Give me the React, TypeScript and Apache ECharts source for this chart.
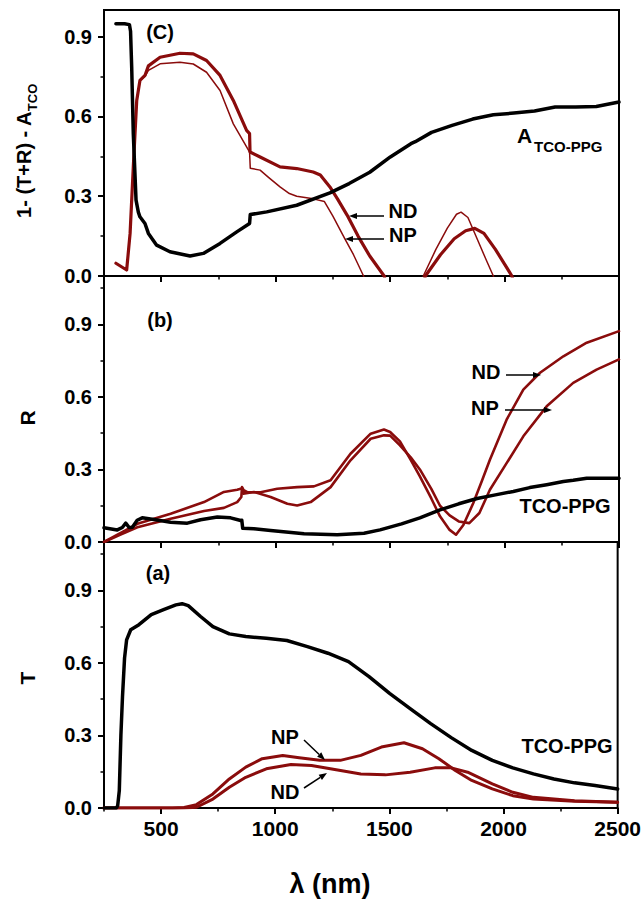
import React, { useEffect, useRef } from 'react';
import * as echarts from 'echarts';

// ---------- axes ----------
const X_MIN = 250;
const X_MAX = 2500;
const X_MAJOR = [500, 1000, 1500, 2000, 2500];
const X_MINOR = [250, 750, 1250, 1750, 2250];
const Y_MAJOR = [0, 0.3, 0.6, 0.9];
const Y_MINOR_TOP = [0.15, 0.45, 0.75];
const Y_MINOR = [0.15, 0.45, 0.75, 1.05];
const Y_MAX = [1.0, 1.1, 1.1];

// ---------- panel (C): 1-(T+R)-A_TCO ----------
const absTcoPpg: [number, number][] = [
  [302, 0.948], [340, 0.948], [361, 0.945], [366, 0.92], [371, 0.785], [378, 0.535], [390, 0.285],
  [400, 0.24], [407, 0.2225], [429, 0.1975], [444, 0.16], [480, 0.116], [538, 0.091], [626, 0.075],
  [684, 0.085], [757, 0.1225], [830, 0.166], [886, 0.1975], [889, 0.231], [961, 0.241], [1092, 0.266],
  [1237, 0.3125], [1321, 0.3475], [1411, 0.39], [1501, 0.4475], [1591, 0.4975], [1610, 0.505],
  [1681, 0.54], [1771, 0.566], [1861, 0.59], [1951, 0.606], [2041, 0.6125], [2131, 0.62], [2221, 0.635],
  [2311, 0.635], [2401, 0.6375], [2500, 0.654],
];
const absND: [number, number][] = [
  [302, 0.048], [349, 0.0225], [364, 0.16], [378, 0.41], [393, 0.66], [407, 0.735], [429, 0.754],
  [444, 0.79], [495, 0.8225], [582, 0.8375], [640, 0.835], [698, 0.81], [757, 0.754], [815, 0.66],
  [873, 0.5475], [886, 0.535], [888, 0.466], [932, 0.4475], [1019, 0.41], [1092, 0.404], [1164, 0.391],
  [1195, 0.38], [1237, 0.335], [1270, 0.29], [1312, 0.229], [1360, 0.15], [1411, 0.075], [1474, 0],
  [1520, -0.15], [1610, -0.15], [1654, 0], [1720, 0.08], [1780, 0.14], [1830, 0.17], [1870, 0.179],
  [1910, 0.16], [1960, 0.1], [2000, 0.045], [2032, 0], [2080, -0.15],
];
const absNP: [number, number][] = [
  [302, 0.048], [349, 0.0225], [364, 0.16], [378, 0.41], [393, 0.66], [407, 0.735], [429, 0.75],
  [444, 0.773], [495, 0.7975], [582, 0.8036], [640, 0.797], [698, 0.766], [757, 0.6975], [815, 0.572],
  [873, 0.485], [886, 0.466], [889, 0.405], [932, 0.398], [970, 0.37], [1019, 0.335], [1060, 0.31],
  [1092, 0.3], [1164, 0.29], [1213, 0.28], [1250, 0.225], [1303, 0.139], [1340, 0.08], [1384, 0],
  [1430, -0.15], [1600, -0.15], [1645, 0], [1700, 0.1], [1750, 0.18], [1790, 0.232], [1810, 0.24],
  [1840, 0.22], [1880, 0.14], [1920, 0.06], [1951, 0], [2000, -0.15],
];

// ---------- panel (b): R ----------
const reflTcoPpg: [number, number][] = [
  [250, 0.059], [308, 0.05], [330, 0.06], [345, 0.078], [360, 0.06], [374, 0.061], [395, 0.09],
  [417, 0.1], [468, 0.093], [541, 0.082], [614, 0.078], [672, 0.092], [745, 0.103], [803, 0.1],
  [847, 0.089], [852, 0.09], [856, 0.057], [905, 0.055], [978, 0.048], [1124, 0.034], [1269, 0.03],
  [1386, 0.036], [1456, 0.05], [1550, 0.075], [1630, 0.1], [1718, 0.133], [1800, 0.158], [1880, 0.18],
  [1960, 0.195], [2038, 0.209], [2110, 0.225], [2184, 0.237], [2257, 0.25], [2300, 0.255],
  [2359, 0.264], [2500, 0.264],
];
const reflND: [number, number][] = [
  [250, 0.0], [320, 0.03], [396, 0.061], [541, 0.096], [687, 0.128], [774, 0.141], [832, 0.165],
  [850, 0.186], [853, 0.227], [860, 0.215], [876, 0.206], [934, 0.206], [1007, 0.22], [1094, 0.227],
  [1167, 0.23], [1240, 0.255], [1327, 0.365], [1415, 0.448], [1473, 0.465], [1500, 0.455],
  [1543, 0.416], [1590, 0.34], [1630, 0.271], [1680, 0.18], [1718, 0.106], [1760, 0.05], [1788, 0.03],
  [1820, 0.07], [1863, 0.16], [1900, 0.25], [1936, 0.34], [2009, 0.506], [2082, 0.63], [2155, 0.7],
  [2257, 0.768], [2359, 0.824], [2500, 0.872],
];
const reflNP: [number, number][] = [
  [250, 0.0], [396, 0.075], [541, 0.117], [687, 0.165], [774, 0.207], [832, 0.216], [854, 0.222],
  [858, 0.2], [905, 0.207], [978, 0.186], [1051, 0.158], [1094, 0.151], [1153, 0.165], [1240, 0.227],
  [1327, 0.338], [1415, 0.427], [1473, 0.441], [1500, 0.44], [1543, 0.4], [1590, 0.35], [1630, 0.3],
  [1680, 0.22], [1718, 0.15], [1760, 0.11], [1800, 0.085], [1846, 0.078], [1890, 0.12], [1936, 0.216],
  [2009, 0.326], [2082, 0.437], [2184, 0.561], [2300, 0.658], [2402, 0.713], [2500, 0.755],
];

// ---------- panel (a): T ----------
const transTcoPpg: [number, number][] = [
  [250, 0], [304, 0], [310, 0.01], [317, 0.072], [324, 0.3], [331, 0.46], [340, 0.62], [349, 0.695],
  [367, 0.737], [403, 0.758], [457, 0.8], [511, 0.82], [565, 0.84], [592, 0.845], [619, 0.837],
  [673, 0.792], [727, 0.75], [799, 0.72], [871, 0.709], [961, 0.702], [1051, 0.6925], [1141, 0.6675],
  [1231, 0.64], [1321, 0.605], [1411, 0.543], [1501, 0.474], [1591, 0.411], [1681, 0.349],
  [1771, 0.291], [1861, 0.238], [1951, 0.197], [2041, 0.166], [2131, 0.141], [2221, 0.12],
  [2311, 0.104], [2401, 0.093], [2500, 0.079],
];
const transNP: [number, number][] = [
  [250, 0], [550, 0], [601, 0.002], [655, 0.014], [727, 0.058], [799, 0.12], [871, 0.169], [943, 0.204],
  [1033, 0.2175], [1105, 0.208], [1195, 0.197], [1285, 0.197], [1375, 0.2175], [1465, 0.252],
  [1564, 0.27], [1645, 0.245], [1717, 0.204], [1789, 0.155], [1861, 0.114], [1951, 0.079],
  [2041, 0.051], [2131, 0.037], [2311, 0.028], [2500, 0.0235],
];
const transND: [number, number][] = [
  [250, 0], [600, 0], [655, 0.003], [727, 0.037], [799, 0.086], [871, 0.127], [961, 0.162],
  [1069, 0.18], [1159, 0.176], [1267, 0.158], [1375, 0.141], [1483, 0.137], [1591, 0.148],
  [1699, 0.166], [1771, 0.166], [1843, 0.148], [1951, 0.1], [2041, 0.065], [2131, 0.044],
  [2311, 0.03], [2500, 0.0235],
];

const FONT = "'Liberation Sans', Arial, sans-serif";
const BLACK = '#000000';
const RED = '#8a0c0c';

const GRIDS = [
  { top: 10, height: 266 },
  { top: 276, height: 266 },
  { top: 542, height: 266 },
];

function lineSeries(name: string, data: [number, number][], idx: number, color: string, width: number) {
  return {
    type: 'line',
    name,
    data,
    xAxisIndex: idx,
    yAxisIndex: idx,
    showSymbol: false,
    symbol: 'none',
    smooth: false,
    lineStyle: { color, width, join: 'round', cap: 'round' },
    z: color === BLACK ? 3 : 2,
  };
}

function txt(text: string, x: number, y: number, size: number, align = 'center', extra: any = {}) {
  return {
    type: 'text',
    x,
    y,
    z: 10,
    ...extra,
    style: {
      text,
      fill: BLACK,
      fontSize: size,
      fontWeight: 'bold',
      fontFamily: FONT,
      align,
      verticalAlign: 'middle',
      ...(extra.style || {}),
    },
  };
}

function arrow(x1: number, y1: number, x2: number, y2: number) {
  const dx = x2 - x1;
  const dy = y2 - y1;
  const len = Math.sqrt(dx * dx + dy * dy);
  const ux = dx / len;
  const uy = dy / len;
  const hl = 8;
  const hw = 3;
  const bx = x2 - ux * hl;
  const by = y2 - uy * hl;
  return [
    { type: 'line', z: 10, shape: { x1, y1, x2: bx, y2: by }, style: { stroke: BLACK, lineWidth: 1.5 } },
    {
      type: 'polygon',
      z: 10,
      shape: { points: [[x2, y2], [bx - uy * hw, by + ux * hw], [bx + uy * hw, by - ux * hw]] },
      style: { fill: BLACK },
    },
  ];
}

export default function App() {
  const ref = useRef<HTMLDivElement>(null);
  useEffect(() => {
    if (!ref.current) return;
    const chart = echarts.init(ref.current, null, { renderer: 'svg' });

    const grid = GRIDS.map((g) => ({
      left: 104,
      width: 515,
      top: g.top,
      height: g.height,
      show: true,
      borderColor: BLACK,
      borderWidth: 2,
      backgroundColor: 'transparent',
    }));

    const xAxis: any[] = [];
    const yAxis: any[] = [];
    for (let i = 0; i < 3; i++) {
      xAxis.push({
        type: 'value',
        gridIndex: i,
        min: X_MIN,
        max: X_MAX,
        interval: 250,
        position: 'bottom',
        axisLine: { show: true, onZero: false, lineStyle: { color: BLACK, width: 2 } },
        axisTick: { show: true, customValues: X_MAJOR, length: 6, lineStyle: { color: BLACK, width: 2 } },
        axisLabel: {
          show: i === 2,
          customValues: X_MAJOR,
          formatter: (v: number) => String(v),
          fontSize: 21,
          fontWeight: 'bold',
          fontFamily: FONT,
          color: BLACK,
          margin: 10,
        },
        splitLine: { show: false },
      });
    }
    for (let i = 0; i < 3; i++) {
      xAxis.push({
        type: 'value',
        gridIndex: i,
        min: X_MIN,
        max: X_MAX,
        interval: 250,
        position: 'bottom',
        axisLine: { show: false, onZero: false },
        axisTick: { show: true, customValues: X_MINOR, length: 3.5, lineStyle: { color: BLACK, width: 1.5 } },
        axisLabel: { show: false },
        splitLine: { show: false },
      });
    }
    for (let i = 0; i < 3; i++) {
      yAxis.push({
        type: 'value',
        gridIndex: i,
        min: 0,
        max: Y_MAX[i],
        interval: 0.3,
        position: 'left',
        axisLine: { show: true, onZero: false, lineStyle: { color: BLACK, width: 2 } },
        axisTick: { show: true, customValues: Y_MAJOR, length: 6, lineStyle: { color: BLACK, width: 2 } },
        axisLabel: {
          customValues: Y_MAJOR,
          formatter: (v: number) => v.toFixed(1),
          fontSize: 20,
          fontWeight: 'bold',
          fontFamily: FONT,
          color: BLACK,
          margin: 12,
        },
        splitLine: { show: false },
      });
    }
    for (let i = 0; i < 3; i++) {
      yAxis.push({
        type: 'value',
        gridIndex: i,
        min: 0,
        max: Y_MAX[i],
        interval: 0.3,
        position: 'left',
        axisLine: { show: false, onZero: false },
        axisTick: {
          show: true,
          customValues: i === 0 ? Y_MINOR_TOP : Y_MINOR,
          length: 3.5,
          lineStyle: { color: BLACK, width: 1.5 },
        },
        axisLabel: { show: false },
        splitLine: { show: false },
      });
    }

    const series = [
      lineSeries('A TCO-PPG', absTcoPpg, 0, BLACK, 3.5),
      lineSeries('ND', absND, 0, RED, 3.2),
      lineSeries('NP', absNP, 0, RED, 1.5),
      lineSeries('TCO-PPG', reflTcoPpg, 1, BLACK, 3.5),
      lineSeries('ND', reflND, 1, RED, 2.6),
      lineSeries('NP', reflNP, 1, RED, 2.6),
      lineSeries('TCO-PPG', transTcoPpg, 2, BLACK, 3.5),
      lineSeries('NP', transNP, 2, RED, 3),
      lineSeries('ND', transND, 2, RED, 3),
    ];

    const graphic: any[] = [
      // y-axis titles
      {
        type: 'text',
        x: 24,
        y: 151,
        rotation: Math.PI / 2,
        z: 10,
        style: {
          text: '1- (T+R) - A{s|TCO}',
          fill: BLACK,
          fontSize: 20,
          fontWeight: 'bold',
          fontFamily: FONT,
          align: 'center',
          verticalAlign: 'middle',
          lineHeight: 30,
          rich: {
            s: { fontSize: 13, fontWeight: 'bold', fontFamily: FONT, fill: BLACK, verticalAlign: 'bottom', lineHeight: 30 },
          },
        },
      },
      txt('R', 27, 418, 21, 'center', { rotation: Math.PI / 2 }),
      txt('T', 27, 678, 21, 'center', { rotation: Math.PI / 2 }),
      txt('\u03bb (nm)', 330, 884, 27),
      // panel labels
      txt('(C)', 160, 32, 20),
      txt('(b)', 160, 320, 20),
      txt('(a)', 158, 573, 20),
      // panel C annotations
      txt('A', 517, 135, 21, 'left'),
      txt('TCO-PPG', 534, 146, 15, 'left'),
      txt('ND', 403, 211, 20),
      txt('NP', 403, 235, 20),
      ...arrow(384, 216, 349, 216),
      ...arrow(384, 239, 345, 239),
      // panel b annotations
      txt('ND', 486, 372, 20),
      txt('NP', 485, 408, 20),
      ...arrow(506, 375, 541, 375),
      ...arrow(505, 410, 552, 410),
      txt('TCO-PPG', 565, 506, 20),
      // panel a annotations
      txt('NP', 285, 737, 20),
      txt('ND', 285, 792, 20),
      ...arrow(304, 740, 325, 760),
      ...arrow(304, 788, 327, 773),
      txt('TCO-PPG', 567, 746, 20),
    ];

    chart.setOption({
      animation: false,
      backgroundColor: '#ffffff',
      grid,
      xAxis,
      yAxis,
      series,
      graphic,
    });
    return () => chart.dispose();
  }, []);

  return <div ref={ref} style={{ position: 'absolute', left: 0, top: 0, width: 644, height: 902 }} />;
}
